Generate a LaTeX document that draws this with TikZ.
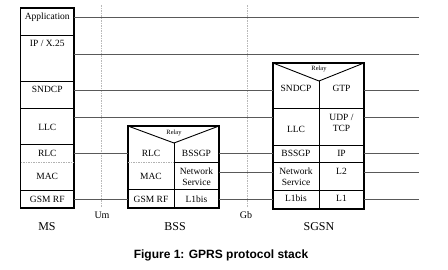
\documentclass[tikz,border=0pt]{standalone}
\usepackage{fontspec}
\setmainfont{Liberation Serif}
\newfontfamily\capfont{Liberation Sans}
\begin{document}
\begin{tikzpicture}[x=1pt,y=-1pt,
  box/.style={draw=black,line width=1.1pt},
  sep/.style={draw=black,line width=0.9pt},
  dsep/.style={draw=gray!60,line width=0.6pt,dashed,dash pattern=on 1.5pt off 1pt},
  conn/.style={draw=black!65,line width=1pt},
  iface/.style={draw=gray!55,line width=0.5pt,dash pattern=on 1.5pt off 1pt},
  cell/.style={inner sep=0pt,font=\fontsize{9.5}{11}\selectfont,align=center},
  relay/.style={inner sep=0pt,font=\fontsize{6.5}{7}\selectfont},
  ent/.style={inner sep=0pt,font=\fontsize{12}{14}\selectfont},
  ifl/.style={inner sep=0pt,font=\fontsize{10}{12}\selectfont}]
\useasboundingbox (0,0) rectangle (448,269);
% reference coordinates
\coordinate (msE) at (74,0);
\coordinate (bssW) at (128,0);
\coordinate (bssE) at (219,0);
\coordinate (sgW) at (273,0);
\coordinate (sgE) at (364,0);
\coordinate (endR) at (419,0);
% interface dashed lines
\coordinate (umT) at (101,5); \coordinate (umB) at (101,207);
\coordinate (gbT) at (247,5); \coordinate (gbB) at (247,207);
\draw[iface] (umT) -- (umB);
\draw[iface] (gbT) -- (gbB);
\node[ifl] (um) at (102,215) {Um};
\node[ifl] (gb) at (246,215) {Gb};
% ---------- MS ----------
\draw[box] (20.5,8) rectangle (74,208);
\draw[sep] (20.5,35) -- (74,35);
\draw[sep] (20.5,81) -- (74,81);
\draw[sep] (20.5,108) -- (74,108);
\draw[sep] (20.5,144) -- (74,144);
\draw[dsep] (20.5,162) -- (74,162);
\draw[sep] (20.5,190) -- (74,190);
\node[cell] (msApp) at (47.25,17) {Application};
\node[cell] (msIP) at (47.25,43.5) {IP / X.25};
\node[cell] (msSN) at (47.25,89) {SNDCP};
\node[cell] (msLLC) at (47.25,127.5) {LLC};
\node[cell] (msRLC) at (47.25,153) {RLC};
\node[cell] (msMAC) at (47.25,176) {MAC};
\node[cell] (msRF) at (47.25,199) {GSM RF};
\node[ent] (ms) at (47,227) {MS};
% ---------- BSS ----------
\draw[box] (128,126) rectangle (219,208);
\draw[sep] (128,126) -- (174,143) -- (219,126);
\draw[sep] (174,143) -- (174,208);
\draw[dsep] (128,162) -- (174,162);
\draw[sep] (174,162) -- (219,162);
\draw[sep] (128,189) -- (219,189);
\node[relay] (bssRelay) at (174,133) {Relay};
\node[cell] (bssRLC) at (151,153) {RLC};
\node[cell] (bssMAC) at (151,176) {MAC};
\node[cell] (bssRF) at (151,199) {GSM RF};
\node[cell] (bssBG) at (196.5,153) {BSSGP};
\node[cell] (bssNS) at (196.5,176.5) {Network\\Service};
\node[cell] (bssL1) at (196.5,199) {L1bis};
\node[ent] (bss) at (175,227) {BSS};
% ---------- SGSN ----------
\draw[box] (273,63) rectangle (364,209);
\draw[sep] (273,63) -- (319,81) -- (364,63);
\draw[sep] (319,81) -- (319,209);
\draw[sep] (273,108) -- (364,108);
\draw[sep] (273,145) -- (364,145);
\draw[sep] (273,162) -- (364,162);
\draw[sep] (273,190) -- (364,190);
\node[relay] (sgRelay) at (319,69) {Relay};
\node[cell] (sgSN) at (296,88.5) {SNDCP};
\node[cell] (sgLLC) at (296,129) {LLC};
\node[cell] (sgBG) at (296,153) {BSSGP};
\node[cell] (sgNS) at (296,177) {Network\\Service};
\node[cell] (sgL1b) at (296,198.5) {L1bis};
\node[cell] (sgGTP) at (341.5,88.5) {GTP};
\node[cell] (sgUDP) at (341.5,123) {UDP /\\TCP};
\node[cell] (sgIP) at (341.5,153) {IP};
\node[cell] (sgL2) at (341.5,171) {L2};
\node[cell] (sgL1) at (341.5,198.5) {L1};
\node[ent] (sgsn) at (319,227) {SGSN};
% ---------- connectors ----------
\coordinate (yApp) at (0,17);
\coordinate (yIP) at (0,54);
\coordinate (ySN) at (0,90);
\coordinate (yLLC) at (0,117);
\coordinate (yRLC) at (0,153.5);
\coordinate (yNS) at (0,172);
\coordinate (yRF) at (0,199);
\draw[conn] (yApp -| msE) -- (yApp -| endR);
\draw[conn] (yIP -| msE) -- (yIP -| endR);
\draw[conn] (ySN -| msE) -- (ySN -| sgW);
\draw[conn] (yLLC -| msE) -- (yLLC -| sgW);
\draw[conn] (yRLC -| msE) -- (yRLC -| bssW);
\draw[conn] (yRF -| msE) -- (yRF -| bssW);
\draw[conn] (yRLC -| bssE) -- (yRLC -| sgW);
\draw[conn] (yNS -| bssE) -- (yNS -| sgW);
\draw[conn] (yRF -| bssE) -- (yRF -| sgW);
\draw[conn] (ySN -| sgE) -- (ySN -| endR);
\draw[conn] (yLLC -| sgE) -- (yLLC -| endR);
\draw[conn] (yRLC -| sgE) -- (yRLC -| endR);
\draw[conn] (yNS -| sgE) -- (yNS -| endR);
\draw[conn] (yRF -| sgE) -- (yRF -| endR);
% caption
\node[inner sep=0pt,font=\capfont\bfseries\fontsize{12}{14}\selectfont] (cap) at (221,255) {Figure 1: GPRS protocol stack};
\end{tikzpicture}
\end{document}
